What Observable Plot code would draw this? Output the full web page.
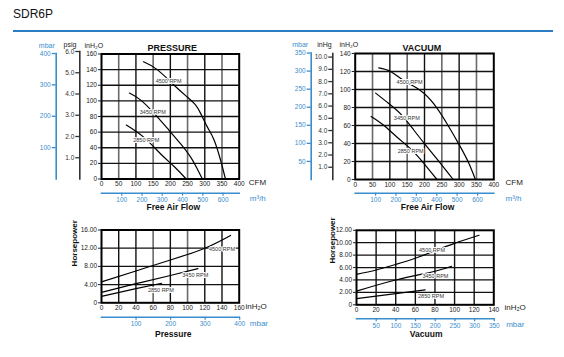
<!DOCTYPE html>
<html>
<head>
<meta charset="utf-8">
<script src="https://cdn.jsdelivr.net/npm/d3@7"></script>
<script src="https://cdn.jsdelivr.net/npm/@observablehq/plot@0.6"></script>
<style>
  html, body { margin: 0; padding: 0; background: #fff; }
  #chart { position: relative; width: 564px; height: 357px; overflow: hidden; font-family: "Liberation Sans", Arial, sans-serif; }
  #chart svg { position: absolute; left: 0; top: 0; }
  #title { position: absolute; left: 13px; top: 8px; font-size: 12px; line-height: 1; color: #111; }
  #rule { position: absolute; left: 13px; top: 30px; width: 540px; height: 1.6px; background: #2b7cc2; }
</style>
</head>
<body>
<div id="chart">
  <div id="title">SDR6P</div>
  <div id="rule"></div>
</div>
<script>
// ---------------- data ----------------
const rpms = ["4500 RPM", "3450 RPM", "2850 RPM"];

// Pressure: [CFM, inH2O]
const pressure4500 = [[122,150],[162,140],[211,120],[249,105],[273,95],[288,84],[307,67],[327,50],[346,24],[360,0]];
const pressure3450 = [[81,110],[114,101],[153,84],[191,65],[230,45],[259,28],[278,13],[293,0]];
const pressure2850 = [[72,69],[124,53],[172,32],[211,16],[246,0]];

// Vacuum: [CFM, inH2O]
const vacuum4500 = [[68,124],[102,120],[140,110],[188,99],[227,84],[265,62],[304,36],[328,18],[347,0]];
const vacuum3450 = [[59,96],[92,86],[131,73],[169,55],[208,36],[246,18],[283,0]];
const vacuum2850 = [[46,70],[83,60],[121,47],[160,34],[198,18],[236,0]];

// Horsepower vs pressure: [inH2O, HP]
const hpPressure4500 = [[0,4.6],[40,7.0],[80,9.4],[120,12.0],[150,14.8]];
const hpPressure3450 = [[0,2.3],[40,4.2],[80,6.0],[112,7.5]];
const hpPressure2850 = [[0,1.4],[40,3.1],[70,4.3]];

// Horsepower vs vacuum: [inH2O, HP]
const hpVacuum4500 = [[0,4.9],[20,5.6],[40,6.5],[60,7.5],[80,8.7],[100,9.9],[125,11.2]];
const hpVacuum3450 = [[0,2.2],[40,4.0],[80,5.4],[97,6.2]];
const hpVacuum2850 = [[0,1.0],[40,1.8],[70,2.4]];

// curve label anchors [label, x, y] in data units
const pressureLabels = [["4500 RPM",195,125],["3450 RPM",149,86],["2850 RPM",130,49]];
const vacuumLabels = [["4500 RPM",157,108],["3450 RPM",149,68],["2850 RPM",160,31]];
const hpPressureLabels = [["4500 RPM",140,11.8],["3450 RPM",109,6.0],["2850 RPM",69,2.7]];
const hpVacuumLabels = [["4500 RPM",77,8.8],["3450 RPM",80.5,4.6],["2850 RPM",76,1.4]];

// tick labels
const cfmTicks = [0,50,100,150,200,250,300,350,400];
const pressureInH2OTicks = [0,20,40,60,80,100,120,140,160];
const vacuumInH2OTicks = [0,20,40,60,80,100,120,140];
const psigTicks = [1,2,3,4,5,6];
const inHgTicks = [1,2,3,4,5,6,7,8,9,10];
const mbarPressureTicks = [100,200,300,400];
const mbarVacuumTicks = [50,100,150,200,250,300,350];
const m3hTicks = [100,200,300,400,500,600];
const hpPressureTicks = [0,4,8,12,16];
const hpVacuumTicks = [0,2,4,6,8,10,12];

// unit conversions as drawn in the chart (to inH2O / CFM)
const INH2O_PER_PSI = 27.2;
const INH2O_PER_MBAR = 0.4015;
const INH2O_PER_INHG = 13.6;
const M3H_PER_CFM = 1.699;

// ---------------- drawing ----------------
const W = 564, H = 357;
const FONT = '"Liberation Sans Narrow","Arial Narrow","Liberation Sans",Arial,sans-serif';
const BLUE = "#3a8dcc";
const INK = "#222";
const root = document.getElementById("chart");

function layer(opts) {
  const svg = Plot.plot({
    width: W, height: H,
    style: {background: "transparent", fontFamily: FONT, fontSize: "6.5px", overflow: "visible"},
    ...opts
  });
  root.append(svg);
  return svg;
}

function panel({left, right, top, bottom, xDomain, yDomain, xTicks, yTicks, yFormat, curves, labels, shade, extra}) {
  const series = curves.flatMap(([rpm, pts]) => pts.map(([x, y]) => ({rpm, x, y})));
  const inner = (t) => t.slice(1, -1);
  return layer({
    marginLeft: left, marginRight: W - right, marginTop: top, marginBottom: H - bottom,
    x: {domain: xDomain, label: null},
    y: {domain: yDomain, label: null},
    marks: [
      Plot.ruleX(inner(xTicks).filter(d => !shade(d)), {stroke: "#111", strokeWidth: 1.4}),
      Plot.ruleX(inner(xTicks).filter(d => shade(d)), {stroke: "#6a6a6a", strokeWidth: 1.6}),
      Plot.ruleY(inner(yTicks), {stroke: "#111", strokeWidth: 1.3}),
      Plot.line(series, {x: "x", y: "y", z: "rpm", curve: "natural", stroke: "#000", strokeWidth: 1.2}),
      Plot.text(labels, {x: d => d[1], y: d => d[2], text: d => d[0], fontSize: 5.5, fill: "#333", stroke: "#fff", strokeWidth: 2}),
      Plot.frame({stroke: "#000", strokeWidth: 2}),
      Plot.axisY(yTicks, {anchor: "left", tickSize: 3, tickPadding: 1.5, tickFormat: yFormat, label: null, stroke: INK, fill: INK}),
      Plot.axisX(xTicks, {anchor: "bottom", tickSize: 0, tickPadding: 2.5, label: null, fill: INK}),
      ...extra
    ]
  });
}

function vAxis({x, yScale, top, domain, ticks, format, color}) {
  const yBottom = yScale.apply(0), yTop = yScale.apply(top);
  return layer({
    marginLeft: x, marginRight: W - x - 10, marginTop: yTop, marginBottom: H - yBottom,
    y: {domain, label: null},
    marks: [
      Plot.frame({anchor: "left", stroke: color, strokeWidth: 1.6}),
      Plot.axisY(ticks, {anchor: "left", tickSize: 4, tickPadding: 1.5, tickFormat: format, label: null, stroke: color, fill: color, strokeWidth: 1.3})
    ]
  });
}

function hAxis({y, xScale, right, domain, ticks, unit, unitDx, unitDy}) {
  const xl = xScale.apply(0), xr = xScale.apply(right);
  return layer({
    marginLeft: xl, marginRight: W - xr, marginTop: y - 10, marginBottom: H - y,
    x: {domain, label: null},
    marks: [
      Plot.frame({anchor: "bottom", stroke: BLUE, strokeWidth: 1.6}),
      Plot.axisX(ticks, {anchor: "bottom", tickSize: 3, tickPadding: 1.5, label: null, stroke: BLUE, fill: BLUE, strokeWidth: 1.2}),
      Plot.text([unit], {frameAnchor: "bottom-right", textAnchor: "start", dx: unitDx, dy: unitDy, fill: BLUE, fontSize: 8, fontFamily: "Liberation Sans, Arial, sans-serif"})
    ]
  });
}

const titleFont = "Liberation Sans, Arial, sans-serif";
const unitText = (t, dx, fill = INK, dy = -11) => Plot.text([t], {frameAnchor: "top-left", textAnchor: "start", dx, dy, fill, fontSize: 7, fontFamily: titleFont});

// ---- Panel A: pressure ----
const pA = panel({
  left: 101, right: 238.7, top: 53.5, bottom: 178.5,
  xDomain: [0, 400], yDomain: [0, 160],
  xTicks: cfmTicks, yTicks: pressureInH2OTicks, yFormat: d => String(d),
  curves: [[rpms[0], pressure4500], [rpms[1], pressure3450], [rpms[2], pressure2850]],
  labels: pressureLabels,
  shade: d => (d / 50) % 2 === 1,
  extra: [
    Plot.text(["PRESSURE"], {frameAnchor: "top", dx: 2, dy: -9.5, fontWeight: "bold", fontSize: 9, fill: "#111", fontFamily: titleFont}),
    unitText("mbar", -62.7, BLUE), unitText("psig", -38, INK, -12), unitText("inH₂O", -17),
    Plot.text(["CFM"], {frameAnchor: "bottom-right", textAnchor: "start", dx: 9.6, dy: 5.5, fontSize: 8, fill: INK, fontFamily: titleFont}),
    Plot.text(["Free Air Flow"], {frameAnchor: "bottom", dx: 2.9, dy: 30.8, fontWeight: "bold", fontSize: 8.5, fill: "#111", fontFamily: titleFont})
  ]
});
const yA = pA.scale("y"), xA = pA.scale("x");
vAxis({x: 79.3, yScale: yA, top: 6 * INH2O_PER_PSI, domain: [0, 6], ticks: psigTicks, format: d => d.toFixed(1), color: "#333"});
vAxis({x: 55.7, yScale: yA, top: 400 * INH2O_PER_MBAR, domain: [0, 400], ticks: mbarPressureTicks, format: d => String(d), color: BLUE});
hAxis({y: 192.7, xScale: xA, right: 400, domain: [0, 400 * M3H_PER_CFM], ticks: m3hTicks, unit: "m³/h", unitDx: 10.6, unitDy: 8});

// ---- Panel B: vacuum ----
const pB = panel({
  left: 354.7, right: 493.3, top: 53, bottom: 179,
  xDomain: [0, 400], yDomain: [0, 140],
  xTicks: cfmTicks, yTicks: vacuumInH2OTicks, yFormat: d => String(d),
  curves: [[rpms[0], vacuum4500], [rpms[1], vacuum3450], [rpms[2], vacuum2850]],
  labels: vacuumLabels,
  shade: d => (d / 50) % 2 === 1,
  extra: [
    Plot.text(["VACUUM"], {frameAnchor: "top", dx: -2.7, dy: -9, fontWeight: "bold", fontSize: 9, fill: "#111", fontFamily: titleFont}),
    unitText("mbar", -63, BLUE), unitText("inHg", -38), unitText("inH₂O", -15.7),
    Plot.text(["CFM"], {frameAnchor: "bottom-right", textAnchor: "start", dx: 11.7, dy: 5, fontSize: 8, fill: INK, fontFamily: titleFont}),
    Plot.text(["Free Air Flow"], {frameAnchor: "bottom", dx: 3, dy: 30.3, fontWeight: "bold", fontSize: 8.5, fill: "#111", fontFamily: titleFont})
  ]
});
const yB = pB.scale("y"), xB = pB.scale("x");
vAxis({x: 332.3, yScale: yB, top: 140, domain: [0, 140 / INH2O_PER_INHG], ticks: inHgTicks, format: d => d.toFixed(1), color: "#333"});
vAxis({x: 310.7, yScale: yB, top: 350 * INH2O_PER_MBAR, domain: [0, 350], ticks: mbarVacuumTicks, format: d => String(d), color: BLUE});
hAxis({y: 192.7, xScale: xB, right: 400, domain: [0, 400 * M3H_PER_CFM], ticks: m3hTicks, unit: "m³/h", unitDx: 11.7, unitDy: 8});

// ---- Panel C: horsepower vs pressure ----
const pC = panel({
  left: 101, right: 238.7, top: 229.5, bottom: 302.3,
  xDomain: [0, 160], yDomain: [0, 16],
  xTicks: pressureInH2OTicks, yTicks: hpPressureTicks, yFormat: d => d === 0 ? "0" : d.toFixed(2),
  curves: [[rpms[0], hpPressure4500], [rpms[1], hpPressure3450], [rpms[2], hpPressure2850]],
  labels: hpPressureLabels,
  shade: d => d === 60 || d === 100,
  extra: [
    Plot.text(["Horsepower"], {frameAnchor: "left", rotate: -90, dx: -27, dy: 0, fontWeight: "bold", fontSize: 8, fill: "#111", fontFamily: titleFont}),
    Plot.text(["inH₂O"], {frameAnchor: "bottom-right", textAnchor: "start", dx: 6.3, dy: 6, fontSize: 8, fill: INK, fontFamily: titleFont}),
    Plot.text(["Pressure"], {frameAnchor: "bottom", dx: 2.9, dy: 33.7, fontWeight: "bold", fontSize: 8.5, fill: "#111", fontFamily: titleFont})
  ]
});
hAxis({y: 316.7, xScale: pC.scale("x"), right: 160, domain: [0, 160 / INH2O_PER_MBAR], ticks: mbarPressureTicks, unit: "mbar", unitDx: 10.6, unitDy: 8.6});

// ---- Panel D: horsepower vs vacuum ----
const pD = panel({
  left: 356, right: 493.3, top: 229.8, bottom: 304.3,
  xDomain: [0, 140], yDomain: [0, 12],
  xTicks: vacuumInH2OTicks, yTicks: hpVacuumTicks, yFormat: d => d === 0 ? "0" : d.toFixed(2),
  curves: [[rpms[0], hpVacuum4500], [rpms[1], hpVacuum3450], [rpms[2], hpVacuum2850]],
  labels: hpVacuumLabels,
  shade: d => false,
  extra: [
    Plot.text(["Horsepower"], {frameAnchor: "left", rotate: -90, dx: -24.3, dy: -4, fontWeight: "bold", fontSize: 8, fill: "#111", fontFamily: titleFont}),
    Plot.text(["inH₂O"], {frameAnchor: "bottom-right", textAnchor: "start", dx: 10.7, dy: 5, fontSize: 8, fill: INK, fontFamily: titleFont}),
    Plot.text(["Vacuum"], {frameAnchor: "bottom", dx: 1, dy: 32.4, fontWeight: "bold", fontSize: 8.5, fill: "#111", fontFamily: titleFont})
  ]
});
hAxis({y: 318.3, xScale: pD.scale("x"), right: 140, domain: [0, 140 / INH2O_PER_MBAR], ticks: mbarVacuumTicks, unit: "mbar", unitDx: 12.4, unitDy: 8.4});
</script>
</body>
</html>
